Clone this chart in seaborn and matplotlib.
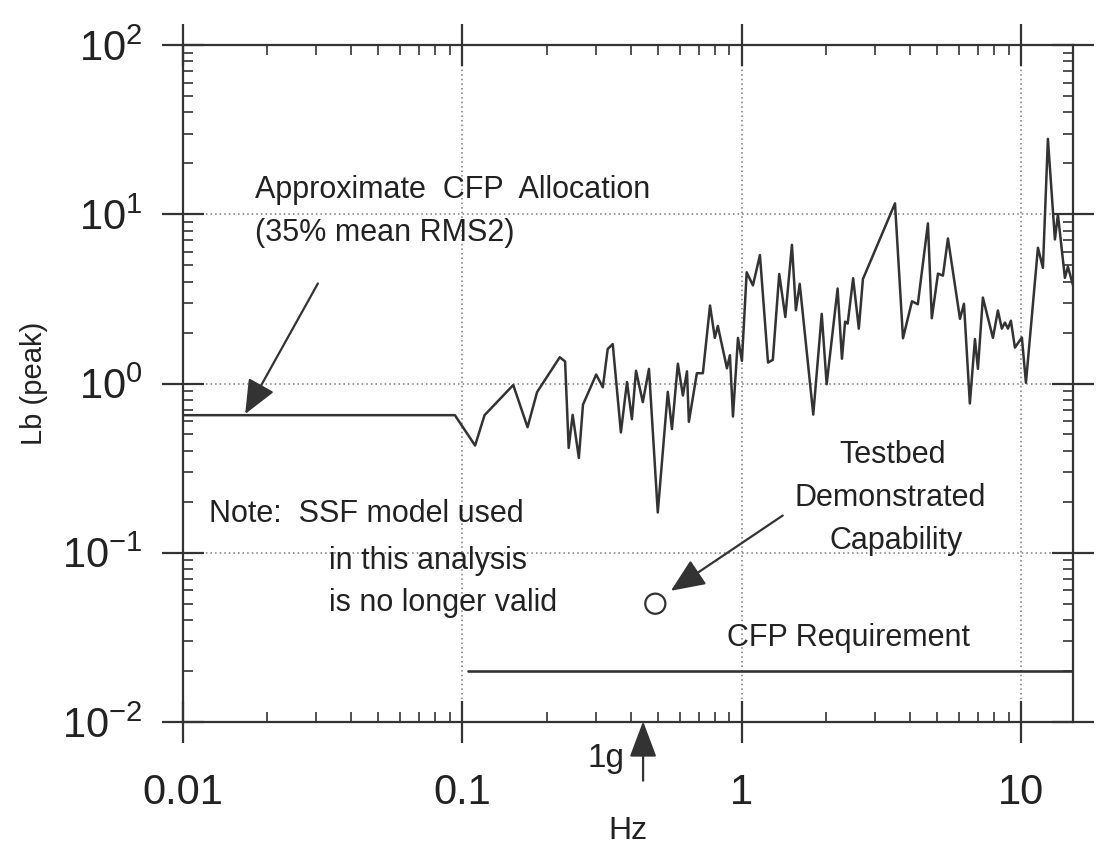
import matplotlib
matplotlib.use("Agg")
import matplotlib.pyplot as plt
import seaborn as sns
import numpy as np
import pandas as pd
from matplotlib.ticker import (LogLocator, FixedLocator, FixedFormatter,
                               NullFormatter, LogFormatterSciNotation)

# ---------------- data ----------------
freq = [0.01, 0.094, 0.111, 0.120, 0.152, 0.171, 0.185, 0.223, 0.233, 0.240,
        0.248, 0.261, 0.270, 0.301, 0.318, 0.331, 0.345, 0.369, 0.388, 0.404,
        0.418, 0.442, 0.465, 0.500, 0.543, 0.562, 0.590, 0.615, 0.636, 0.646,
        0.690, 0.725, 0.769, 0.800, 0.820, 0.884, 0.906, 0.929, 0.968, 1.0,
        1.04, 1.095, 1.16, 1.24, 1.29, 1.36, 1.43, 1.51, 1.56, 1.61,
        1.80, 1.93, 2.01, 2.20, 2.28, 2.34, 2.39, 2.50, 2.62, 2.71,
        3.53, 3.77, 4.06, 4.26, 4.63, 4.78, 5.03, 5.24, 5.46, 6.03,
        6.23, 6.54, 6.82, 6.99, 7.28, 7.91, 8.24, 8.51, 8.73, 8.95,
        9.17, 9.48, 10.04, 10.38, 11.46, 11.94, 12.44, 13.18, 13.51, 14.31,
        14.67, 15.28]
load = [0.65, 0.65, 0.43, 0.65, 0.98, 0.552, 0.89, 1.43, 1.35, 0.416,
        0.653, 0.363, 0.75, 1.13, 0.95, 1.60, 1.71, 0.514, 1.02, 0.615,
        1.19, 0.776, 1.22, 0.173, 0.893, 0.538, 1.31, 0.849, 1.18, 0.594,
        1.15, 1.15, 2.89, 1.86, 2.19, 1.23, 1.47, 0.638, 1.86, 1.36,
        4.54, 3.80, 5.74, 1.33, 1.38, 4.44, 2.47, 6.6, 2.71, 3.88,
        0.655, 2.58, 0.99, 3.64, 1.40, 2.32, 2.26, 4.19, 2.11, 4.14,
        11.6, 1.85, 3.06, 2.94, 8.83, 2.43, 4.46, 4.34, 7.2, 2.41,
        2.96, 0.762, 1.83, 1.22, 3.22, 1.86, 2.70, 2.11, 2.29, 2.11,
        2.35, 1.63, 1.87, 1.01, 6.34, 4.82, 27.9, 7.1, 9.99, 4.21,
        4.9, 3.83]

req_x = [0.105, 15.3]          # CFP requirement
req_y = [0.02, 0.02]

demo_x = [0.49]                 # testbed demonstrated capability
demo_y = [0.05]

x_ticks = [0.01, 0.1, 1, 10]
x_tick_labels = ["0.01", "0.1", "1", "10"]
y_ticks = [0.01, 0.1, 1, 10, 100]

x_lim = (0.01, 15.3)
y_lim = (0.01, 100)

# ---------------- style ----------------
sns.set_style("ticks")
plt.rcParams["font.family"] = ["Liberation Sans", "DejaVu Sans"]
plt.rcParams["mathtext.default"] = "regular"
plt.rcParams["axes.unicode_minus"] = False

INK = "#333333"
GRID = "#7a7a7a"

fig = plt.figure(figsize=(11.02, 8.48), dpi=100, facecolor="white")
ax = fig.add_axes([0.166, 0.1486, 0.8077, 0.7983])
ax.set_facecolor("white")
ax.set_xscale("log")
ax.set_yscale("log")

df = pd.DataFrame({"Hz": freq, "Lb": load})
sns.lineplot(data=df, x="Hz", y="Lb", ax=ax, sort=False, estimator=None,
             color=INK, linewidth=1.8, zorder=3)
sns.lineplot(x=req_x, y=req_y, ax=ax, sort=False, estimator=None,
             color=INK, linewidth=1.9, zorder=3)
sns.scatterplot(x=demo_x, y=demo_y, ax=ax, s=210, marker="o",
                facecolor="none", edgecolor=INK, linewidth=1.6, zorder=4)

ax.set_xlim(*x_lim)
ax.set_ylim(*y_lim)

ax.xaxis.set_major_locator(FixedLocator(x_ticks))
ax.xaxis.set_major_formatter(FixedFormatter(x_tick_labels))
ax.xaxis.set_minor_locator(LogLocator(base=10, subs=np.arange(2, 10), numticks=20))
ax.xaxis.set_minor_formatter(NullFormatter())
ax.yaxis.set_major_locator(FixedLocator(y_ticks))
ax.yaxis.set_major_formatter(LogFormatterSciNotation())
ax.yaxis.set_minor_locator(LogLocator(base=10, subs=np.arange(2, 10), numticks=20))
ax.yaxis.set_minor_formatter(NullFormatter())

for s in ax.spines.values():
    s.set_color(INK)
    s.set_linewidth(1.6)
    s.set_visible(True)

ax.tick_params(which="major", direction="inout", length=30, width=1.6,
               color=INK, top=True, right=True, labelsize=30, labelcolor="#222")
ax.tick_params(axis="x", which="major", pad=22)
ax.tick_params(axis="y", which="major", pad=14)
ax.tick_params(which="minor", direction="in", length=7, width=1.2,
               color=INK, top=True, right=True)

ax.grid(which="major", linestyle=(0, (1, 2)), color=GRID, linewidth=1.1)
ax.set_axisbelow(True)

ax.set_xlabel("Hz", fontsize=23, color="#222", labelpad=2)
ax.set_ylabel("Lb (peak)", fontsize=21, color="#222", labelpad=10)

# ---------------- annotations ----------------
TXT = dict(fontsize=22, color="#222")
ARROW = dict(arrowstyle="-|>,head_length=0.7,head_width=0.3",
             mutation_scale=30, color=INK, lw=1.6, shrinkA=0, shrinkB=0)

ax.text(0.0181, 13.9, "Approximate  CFP  Allocation", ha="left", va="center", **TXT)
ax.text(0.0181, 7.73, "(35% mean RMS2)", ha="left", va="center", **TXT)
ax.annotate("", xy=(0.0167, 0.66), xytext=(0.0304, 3.9), arrowprops=ARROW)

ax.text(0.01239, 0.170, "Note:  SSF model used", ha="left", va="center", **TXT)
ax.text(0.0333, 0.0897, "in this analysis", ha="left", va="center", **TXT)
ax.text(0.0333, 0.0506, "is no longer valid", ha="left", va="center", **TXT)

ax.text(3.47, 0.380, "Testbed", ha="center", va="center", **TXT)
ax.text(3.40, 0.211, "Demonstrated", ha="center", va="center", **TXT)
ax.text(3.55, 0.118, "Capability", ha="center", va="center", **TXT)
ax.annotate("", xy=(0.557, 0.0596), xytext=(1.40, 0.166), arrowprops=ARROW)

ax.text(0.884, 0.0314, "CFP Requirement", ha="left", va="center", **TXT)

ax.annotate("", xy=(0.443, 0.0101), xytext=(0.443, 0.0045),
            annotation_clip=False,
            arrowprops=dict(arrowstyle="-|>,head_length=0.8,head_width=0.3",
                            mutation_scale=28, color=INK, lw=1.6,
                            shrinkA=0, shrinkB=0))
ax.text(0.326, 0.00612, "1g", ha="center", va="center", clip_on=False,
        fontsize=24, color="#222")

fig.savefig("out.png", dpi=100, facecolor="white")
